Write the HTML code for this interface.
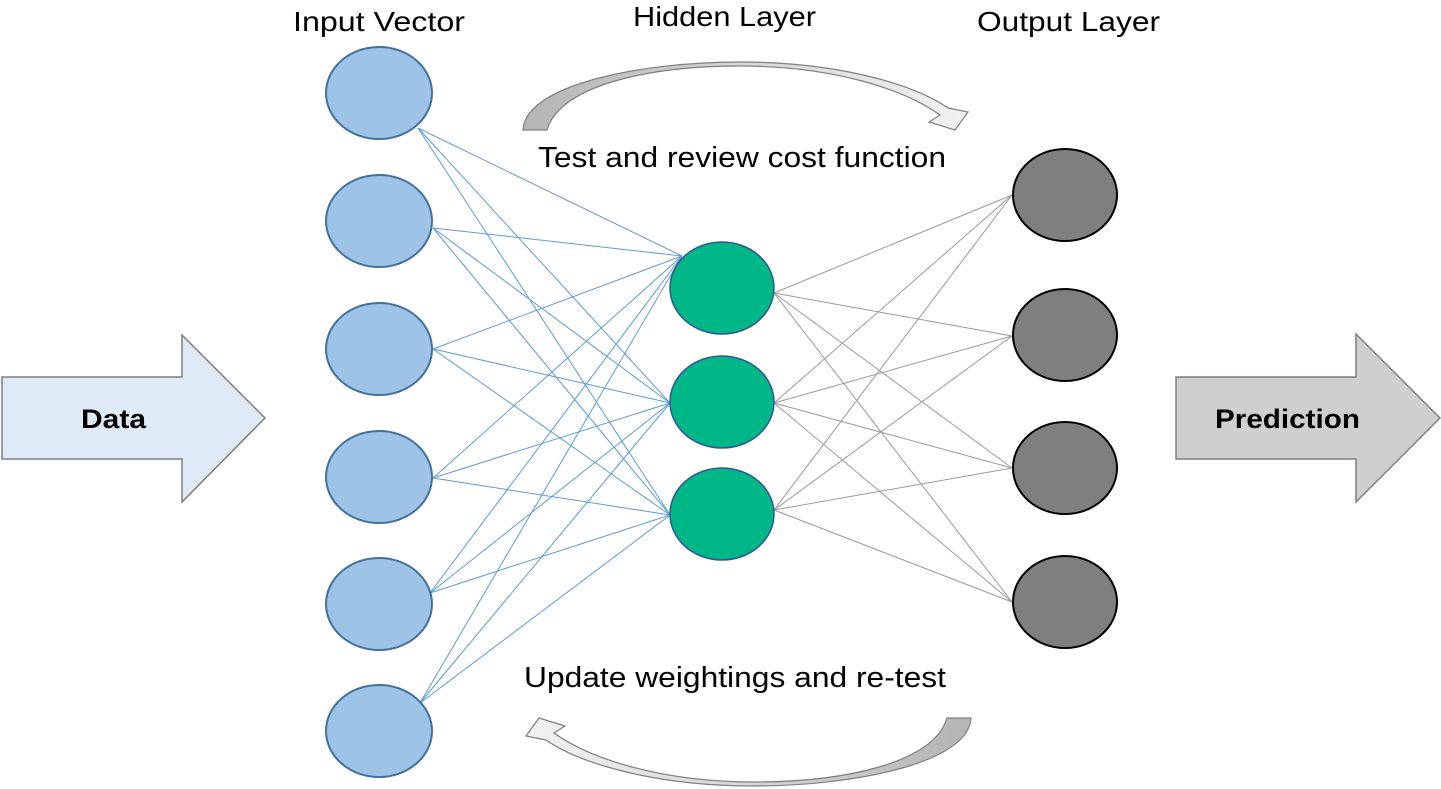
<!DOCTYPE html>
<html>
<head>
<meta charset="utf-8">
<style>
html,body{margin:0;padding:0;background:#fff;}
svg{display:block;}
text{font-family:"Liberation Sans",sans-serif;fill:#000;}
</style>
</head>
<body>
<svg width="1441" height="789" viewBox="0 0 1441 789" xmlns="http://www.w3.org/2000/svg">
<defs>
<linearGradient id="cg" x1="0" y1="0" x2="1" y2="0">
<stop offset="0" stop-color="#b4b4b4"/>
<stop offset="0.5" stop-color="#d6d6d6"/>
<stop offset="1" stop-color="#f2f2f2"/>
</linearGradient>
</defs>

<!-- Data arrow -->
<polygon points="2,377 182,377 182,335 265,418 182,502 182,459 2,459" fill="#deebf7" stroke="#7f7f7f" stroke-width="1.5"/>
<text x="81" y="428" font-size="27" font-weight="bold" textLength="65" lengthAdjust="spacingAndGlyphs">Data</text>

<!-- Prediction arrow -->
<polygon points="1176,377 1356,377 1356,334 1440,418 1356,502 1356,459 1176,459" fill="#d0cece" stroke="#7f7f7f" stroke-width="1.5"/>
<text x="1215" y="428" font-size="27" font-weight="bold" textLength="145" lengthAdjust="spacingAndGlyphs">Prediction</text>

<!-- blue connections -->
<g stroke="#5b9bd5" stroke-width="1" fill="none">
<line x1="418" y1="128" x2="682" y2="256"/>
<line x1="418" y1="128" x2="670" y2="403"/>
<line x1="418" y1="128" x2="670" y2="515"/>
<line x1="433" y1="228" x2="682" y2="256"/>
<line x1="433" y1="228" x2="670" y2="403"/>
<line x1="433" y1="228" x2="670" y2="515"/>
<line x1="433" y1="349" x2="682" y2="256"/>
<line x1="433" y1="349" x2="670" y2="403"/>
<line x1="433" y1="349" x2="670" y2="515"/>
<line x1="433" y1="478" x2="682" y2="256"/>
<line x1="433" y1="478" x2="670" y2="403"/>
<line x1="433" y1="478" x2="670" y2="515"/>
<line x1="430" y1="593" x2="682" y2="256"/>
<line x1="430" y1="593" x2="670" y2="403"/>
<line x1="430" y1="593" x2="670" y2="515"/>
<line x1="420" y1="703" x2="682" y2="256"/>
<line x1="420" y1="703" x2="670" y2="403"/>
<line x1="420" y1="703" x2="670" y2="515"/>
</g>

<!-- grey connections -->
<g stroke="#9a9a9a" stroke-width="1" fill="none">
<line x1="774" y1="293" x2="1012" y2="195"/>
<line x1="774" y1="293" x2="1012" y2="336"/>
<line x1="774" y1="293" x2="1012" y2="468"/>
<line x1="774" y1="293" x2="1012" y2="602"/>
<line x1="774" y1="403" x2="1012" y2="195"/>
<line x1="774" y1="403" x2="1012" y2="336"/>
<line x1="774" y1="403" x2="1012" y2="468"/>
<line x1="774" y1="403" x2="1012" y2="602"/>
<line x1="774" y1="510" x2="1012" y2="195"/>
<line x1="774" y1="510" x2="1012" y2="336"/>
<line x1="774" y1="510" x2="1012" y2="468"/>
<line x1="774" y1="510" x2="1012" y2="602"/>
</g>

<!-- input nodes -->
<g fill="#9dc3e6" stroke="#41719c" stroke-width="2">
<ellipse cx="379" cy="93" rx="53" ry="46"/>
<ellipse cx="379" cy="221" rx="53" ry="46"/>
<ellipse cx="379" cy="349" rx="53" ry="46"/>
<ellipse cx="379" cy="477" rx="53" ry="46"/>
<ellipse cx="379" cy="604" rx="53" ry="46"/>
<ellipse cx="379" cy="731" rx="53" ry="46"/>
</g>

<!-- hidden nodes -->
<g fill="#00b887" stroke="#2f5597" stroke-width="1.5">
<ellipse cx="722" cy="288" rx="52" ry="46"/>
<ellipse cx="722" cy="402" rx="52" ry="46"/>
<ellipse cx="722" cy="514" rx="52" ry="46"/>
</g>

<!-- output nodes -->
<g fill="#7f7f7f" stroke="#000" stroke-width="2">
<ellipse cx="1065" cy="195" rx="52" ry="46"/>
<ellipse cx="1065" cy="335" rx="52" ry="46"/>
<ellipse cx="1065" cy="468" rx="52" ry="46"/>
<ellipse cx="1065" cy="602" rx="52" ry="46"/>
</g>

<!-- curved arrows -->
<path d="M523,130 C525,85 640,62 740,62 C840,62 915,85 948,108 L968,112 L955,130 L929,122 L940,115 C905,90 835,66 740,66 C650,66 560,85 547,130 Z" fill="url(#cg)" stroke="#7f7f7f" stroke-width="1.2"/>
<path d="M523,130 C525,85 640,62 740,62 C840,62 915,85 948,108 L968,112 L955,130 L929,122 L940,115 C905,90 835,66 740,66 C650,66 560,85 547,130 Z" fill="url(#cg)" stroke="#7f7f7f" stroke-width="1.2" transform="rotate(180 747 424)"/>

<!-- labels -->
<text x="293" y="31" font-size="28" textLength="172" lengthAdjust="spacingAndGlyphs">Input Vector</text>
<text x="633" y="26" font-size="28" textLength="183" lengthAdjust="spacingAndGlyphs">Hidden Layer</text>
<text x="977" y="31" font-size="28" textLength="183" lengthAdjust="spacingAndGlyphs">Output Layer</text>
<text x="538" y="167" font-size="29" textLength="408" lengthAdjust="spacingAndGlyphs">Test and review cost function</text>
<text x="524" y="687" font-size="29" textLength="422" lengthAdjust="spacingAndGlyphs">Update weightings and re-test</text>
</svg>
</body>
</html>
